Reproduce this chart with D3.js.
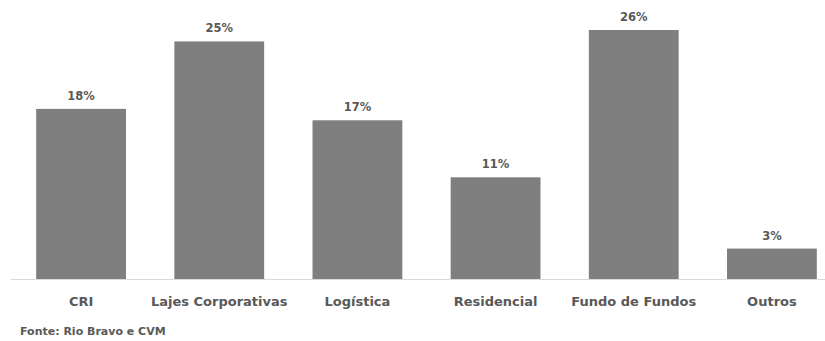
<!DOCTYPE html>
<html>
<head>
    <meta charset="utf-8">
    <title>Bar Chart with D3.js</title>
    <script src="https://d3js.org/d3.v7.min.js"></script>
    <style>
        body { margin: 0; background: #fff; }
        .bar { fill: #7f7f7f; }
        .label { font-family: "DejaVu Sans", sans-serif; font-weight: bold; fill: #595959; }
    </style>
</head>
<body>
    <div class="chart"></div>
    <script>
        // Chart data (bar heights, labels as printed)
        const categories = ["CRI", "Lajes Corporativas", "Logística", "Residencial", "Fundo de Fundos", "Outros"];
        const values = [17.9, 25.0, 16.7, 10.7, 26.2, 3.2];
        const valueLabels = ["18%", "25%", "17%", "11%", "26%", "3%"];
        const source = "Fonte: Rio Bravo e CVM";

        const width = 825, height = 341;
        const baseline = 279;

        const svg = d3.select(".chart")
            .append("svg")
            .attr("width", width)
            .attr("height", height);

        // Scales
        const xScale = d3.scaleBand()
            .domain(categories)
            .range([12, 841])
            .paddingInner(0.35)
            .paddingOuter(0.175);

        const yScale = d3.scaleLinear()
            .domain([0, 26.2])
            .range([baseline, 30]);

        // Bars
        svg.selectAll(".bar")
            .data(values)
            .enter()
            .append("rect")
            .attr("class", "bar")
            .attr("x", (d, i) => xScale(categories[i]))
            .attr("y", d => yScale(d))
            .attr("width", xScale.bandwidth())
            .attr("height", d => baseline - yScale(d));

        // Baseline
        svg.append("line")
            .attr("x1", 11).attr("x2", width)
            .attr("y1", baseline + 0.5).attr("y2", baseline + 0.5)
            .attr("stroke", "#d9d9d9")
            .attr("stroke-width", 1);

        // Value labels
        svg.selectAll(".value")
            .data(values)
            .enter()
            .append("text")
            .attr("class", "label")
            .attr("x", (d, i) => xScale(categories[i]) + xScale.bandwidth() / 2)
            .attr("y", d => yScale(d) - 9)
            .attr("text-anchor", "middle")
            .attr("font-size", 11.5)
            .text((d, i) => valueLabels[i]);

        // Category axis
        const xAxis = d3.axisBottom(xScale).tickSize(0).tickPadding(0);
        const axisG = svg.append("g")
            .attr("transform", `translate(0, ${baseline + 27})`)
            .call(xAxis);
        axisG.select(".domain").remove();
        axisG.selectAll("text")
            .attr("class", "label")
            .attr("dy", 0)
            .attr("font-size", 13);

        // Source
        svg.append("text")
            .attr("class", "label")
            .attr("x", 20)
            .attr("y", 335)
            .attr("font-size", 11)
            .text(source);
    </script>
</body>
</html>
